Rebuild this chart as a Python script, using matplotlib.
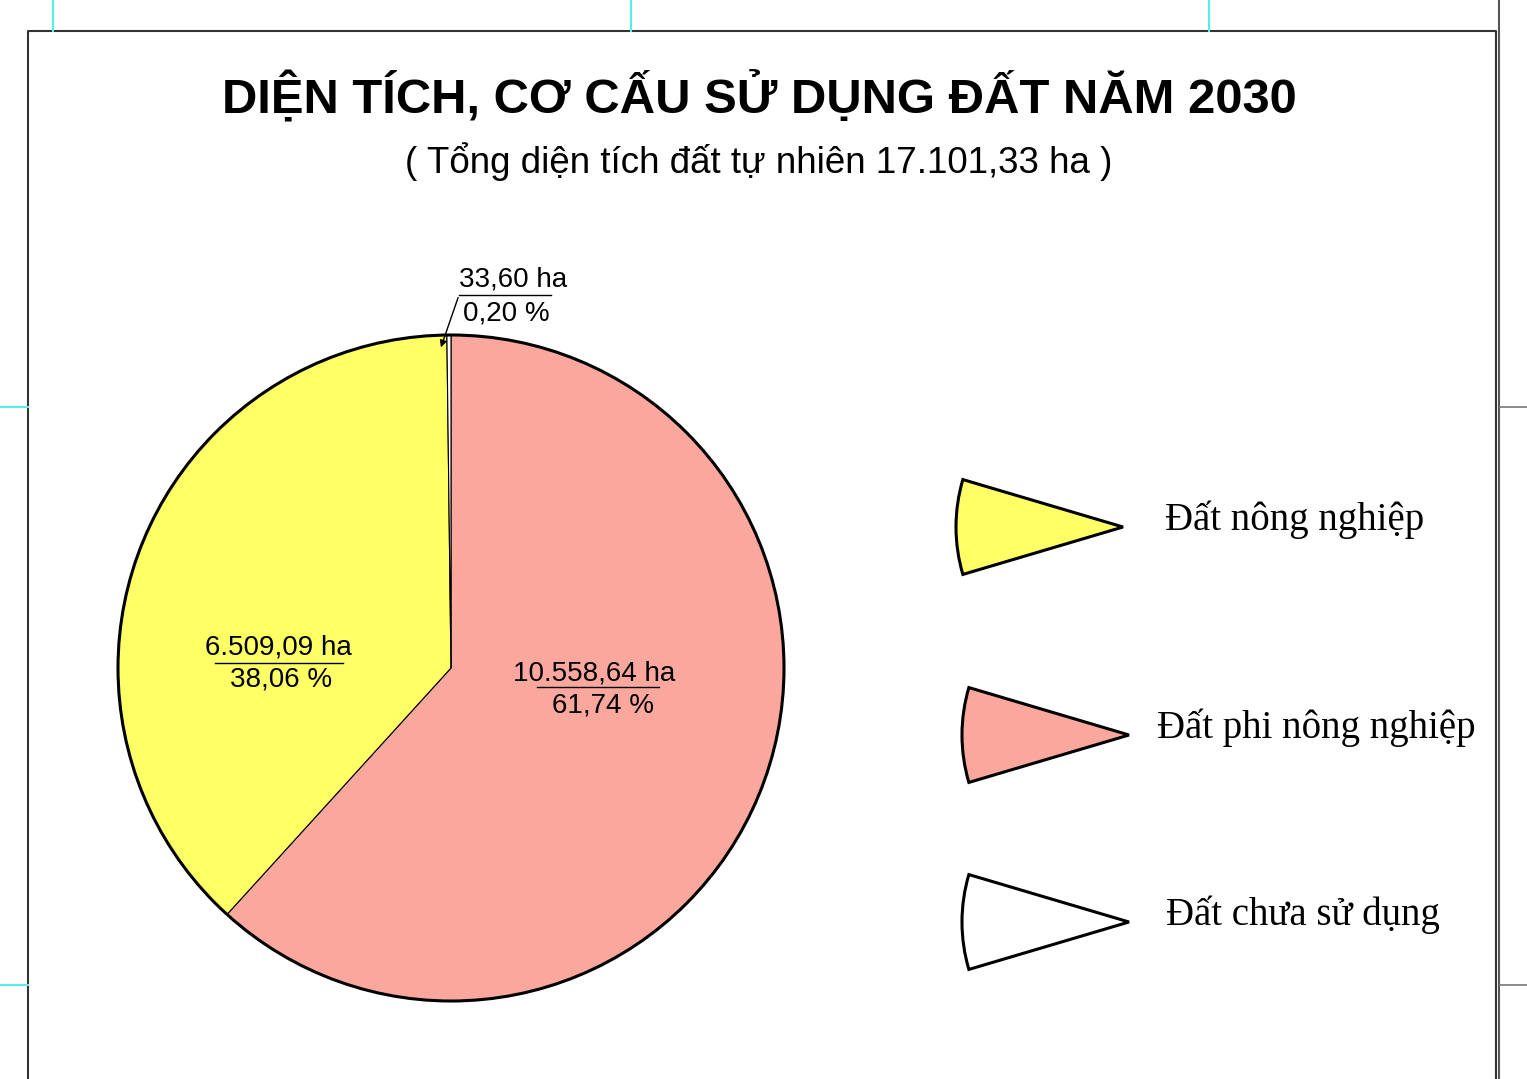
import matplotlib
matplotlib.use("Agg")
import matplotlib.pyplot as plt
from matplotlib.patches import Wedge, Circle

# data
categories = ["Đất phi nông nghiệp", "Đất nông nghiệp", "Đất chưa sử dụng"]
areas_ha = [10558.64, 6509.09, 33.60]
area_labels = ["10.558,64 ha", "6.509,09 ha", "33,60 ha"]
pct_labels = ["61,74 %", "38,06 %", "0,20 %"]
colors = ["#FAA89E", "#FFFF66", "#FFFFFF"]

legend_order = [1, 0, 2]  # legend lists agriculture first

W, H = 1527, 1079
fig = plt.figure(figsize=(W / 100, H / 100), dpi=100)

# pie
cx, cy, r = 451, 668, 333
ax = fig.add_axes([(cx - r) / W, (H - cy - r) / H, 2 * r / W, 2 * r / H])
ax.pie(areas_ha, colors=colors, startangle=90, counterclock=False, radius=1,
       wedgeprops=dict(edgecolor="black", linewidth=0.8))
ax.add_patch(Circle((0, 0), 1, fill=False, edgecolor="black", linewidth=2.2, clip_on=False))
ax.set_xlim(-1, 1)
ax.set_ylim(-1, 1)
ax.set_aspect("equal")
ax.axis("off")

# overlay in pixel coordinates for the frame, texts and legend
ov = fig.add_axes([0, 0, 1, 1])
ov.set_zorder(5)
ov.set_xlim(0, W)
ov.set_ylim(H, 0)
ov.axis("off")

# page frame and crop marks
ov.plot([28, 28, 1496, 1496], [H, 31, 31, H], color="#333333", lw=1.5)
ov.plot([1499, 1499], [0, H], color="#555555", lw=1.5)
for y in (407, 985):
    ov.plot([0, 28], [y, y], color="#55EEEE", lw=1.5)
    ov.plot([1500, W], [y, y], color="#777777", lw=1.2)
for x in (53, 631, 1209):
    ov.plot([x, x], [0, 31], color="#55EEEE", lw=1.5)

# title
ov.text(759, 96, "DIỆN TÍCH, CƠ CẤU SỬ DỤNG ĐẤT NĂM 2030", ha="center", va="center",
        fontsize=35.3, fontweight="bold", family="Liberation Sans")
ov.text(759, 162, "( Tổng diện tích đất tự nhiên 17.101,33 ha )", ha="center", va="center",
        fontsize=26.5, family="Liberation Sans")

# slice labels (area over percentage with a rule between)
lab_font = dict(fontsize=20, family="Liberation Sans", ha="center", va="center")
ov.text(594, 673, area_labels[0], **lab_font)
ov.text(603, 705, pct_labels[0], **lab_font)
ov.plot([537, 659], [687, 687], color="black", lw=1)

ov.text(278, 647, area_labels[1], **lab_font)
ov.text(281, 679, pct_labels[1], **lab_font)
ov.plot([215, 343], [663, 663], color="black", lw=1)

ov.text(513, 279, area_labels[2], **lab_font)
ov.text(506, 313, pct_labels[2], **lab_font)
ov.plot([459, 551], [295, 295], color="black", lw=1)
ov.annotate("", xy=(440, 350), xytext=(459, 295),
            arrowprops=dict(arrowstyle="-|>", color="black", lw=1, mutation_scale=10))

# legend with wedge symbols
leg_y = [527, 735, 922]
leg_apex = [1123, 1129, 1129]
leg_text_x = [1165, 1157, 1166]
for i, yy, ax_x, tx in zip(legend_order, leg_y, leg_apex, leg_text_x):
    ov.add_patch(Wedge((ax_x, yy), 167, 180 - 16.5, 180 + 16.5, facecolor=colors[i],
                       edgecolor="black", linewidth=2.2))
    ov.text(tx, yy - 7, categories[i], ha="left", va="center", fontsize=28,
            family="Liberation Serif")

fig.savefig("out.png", dpi=100, facecolor="white")
